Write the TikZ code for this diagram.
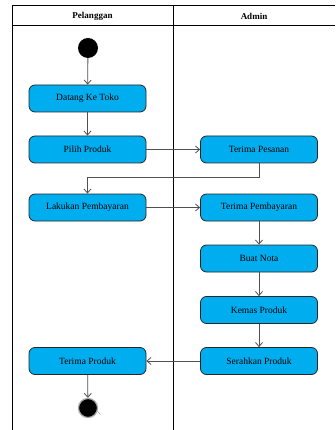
\documentclass[tikz,border=0pt]{standalone}
\usepackage{fontspec}
\setmainfont{Liberation Serif}
\usetikzlibrary{arrows.meta}
\definecolor{actfill}{HTML}{00AEEF}
\definecolor{flowgrey}{HTML}{505050}
\tikzset{
  activity/.style={draw=black!85, line width=0.8pt, fill=actfill, rounded corners=6pt,
    minimum width=117pt, minimum height=27pt, inner sep=0pt, font=\fontsize{9.5}{11}\selectfont},
  flow/.style={draw=flowgrey, line width=0.8pt, -{Straight Barb[length=4pt,width=7pt]}},
  lane/.style={draw=black, line width=0.9pt},
  lanehead/.style={font=\fontsize{9}{11}\selectfont\bfseries},
}
\begin{document}
\begin{tikzpicture}[x=1pt,y=-1pt]
  \useasboundingbox (0,0) rectangle (335,430);
  % swimlane frame
  \draw[lane] (12,430) -- (12,5.5) -- (335,5.5);
  \draw[lane] (12,25) -- (335,25);
  \draw[lane] (173,5.5) -- (173,430);
  \node[lanehead] (hp) at (92.5,16) {Pelanggan};
  \node[lanehead] (ha) at (254,16) {Admin};

  % start and end
  \node[circle, fill=black, minimum size=20pt, inner sep=0pt] (start) at (88,48) {};
  \node[circle, draw=gray!70, line width=1.2pt, fill=black, minimum size=19pt, inner sep=0pt] (end) at (88,408) {};

  % activities
  \node[activity] (datang) at (87.5,98.5) {Datang Ke Toko};
  \node[activity] (pilih) at (87.5,149.5) {Pilih Produk};
  \node[activity] (pesanan) at (259,149.5) {Terima Pesanan};
  \node[activity] (bayar) at (87.5,207.5) {Lakukan Pembayaran};
  \node[activity] (tbayar) at (259,207.5) {Terima Pembayaran};
  \node[activity] (nota) at (259,258.5) {Buat Nota};
  \node[activity] (kemas) at (259,310) {Kemas Produk};
  \node[activity] (serah) at (259,361) {Serahkan Produk};
  \node[activity] (terima) at (87.5,361) {Terima Produk};

  % control flow
  \coordinate (bend) at (0,177);
  \draw[flow] (start) -- (datang);
  \draw[flow] (datang) -- (pilih);
  \draw[flow] (pilih) -- (pesanan);
  \draw[flow] (pesanan.south) -- (pesanan.south |- bend) -- (bayar.north |- bend) -- (bayar.north);
  \draw[flow] (bayar) -- (tbayar);
  \draw[flow] (tbayar) -- (nota);
  \draw[flow] (nota) -- (kemas);
  \draw[flow] (kemas) -- (serah);
  \draw[flow] (serah) -- (terima);
  \draw[flow] (terima) -- (end);
  \draw[gray!70, line width=0.6pt] (end.-20) -- ++(3,3);
\end{tikzpicture}
\end{document}
